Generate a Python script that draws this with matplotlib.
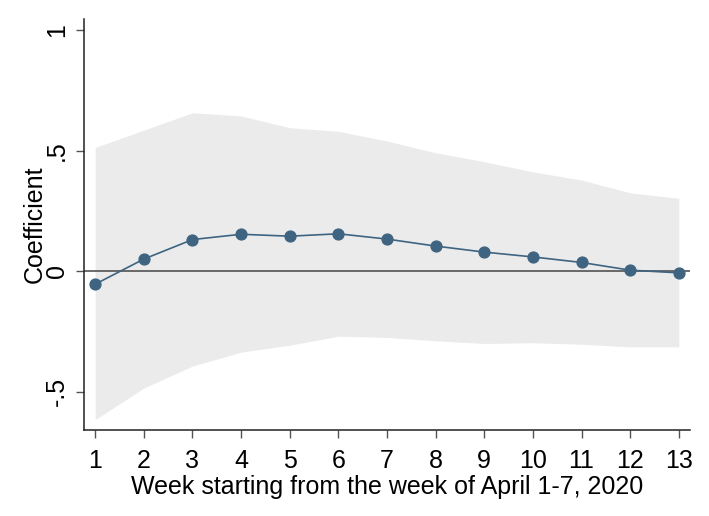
import matplotlib.pyplot as plt
import numpy as np

plt.rcParams['font.family'] = ['Liberation Sans', 'DejaVu Sans']

weeks = np.arange(1, 14)
coef = [-0.054, 0.050, 0.131, 0.153, 0.145, 0.155, 0.133, 0.104, 0.079, 0.059, 0.036, 0.004, -0.007]
ci_hi = [0.513, 0.585, 0.657, 0.644, 0.595, 0.580, 0.540, 0.491, 0.454, 0.412, 0.378, 0.325, 0.302]
ci_lo = [-0.616, -0.485, -0.394, -0.336, -0.307, -0.270, -0.275, -0.289, -0.300, -0.297, -0.303, -0.314, -0.314]
yticks = [-0.5, 0, 0.5, 1]
ylabels = ['-.5', '0', '.5', '1']

fig = plt.figure(figsize=(7.09, 5.16), dpi=100)
ax = fig.add_axes([84/709, 86/516, 606/709, 411/516])

ax.fill_between(weeks, ci_lo, ci_hi, color='#ebebeb', linewidth=0, zorder=1)
ax.axhline(0, color='#444444', linewidth=1.1, zorder=2)
ax.plot(weeks, coef, color='#3e6481', linewidth=1.2, marker='o', markersize=7.8, zorder=3)

ax.set_xlim(0.77, 13.23)
ax.set_ylim(-0.659, 1.046)
ax.set_xticks(weeks)
ax.set_yticks(yticks)
ax.set_yticklabels(ylabels, rotation=90, va='center')
ax.tick_params(axis='both', labelsize=18, length=6, width=1, color='#555555')
ax.tick_params(axis='x', pad=8)
ax.tick_params(axis='y', pad=5)

for s in ['top', 'right']:
    ax.spines[s].set_visible(False)
for s in ['left', 'bottom']:
    ax.spines[s].set_linewidth(1.1)
    ax.spines[s].set_color('#222222')

ax.set_xlabel('Week starting from the week of April 1-7, 2020', fontsize=18, labelpad=1)
ax.set_ylabel('Coefficient', fontsize=18, labelpad=-1.5)

fig.savefig('out.png', dpi=100)
